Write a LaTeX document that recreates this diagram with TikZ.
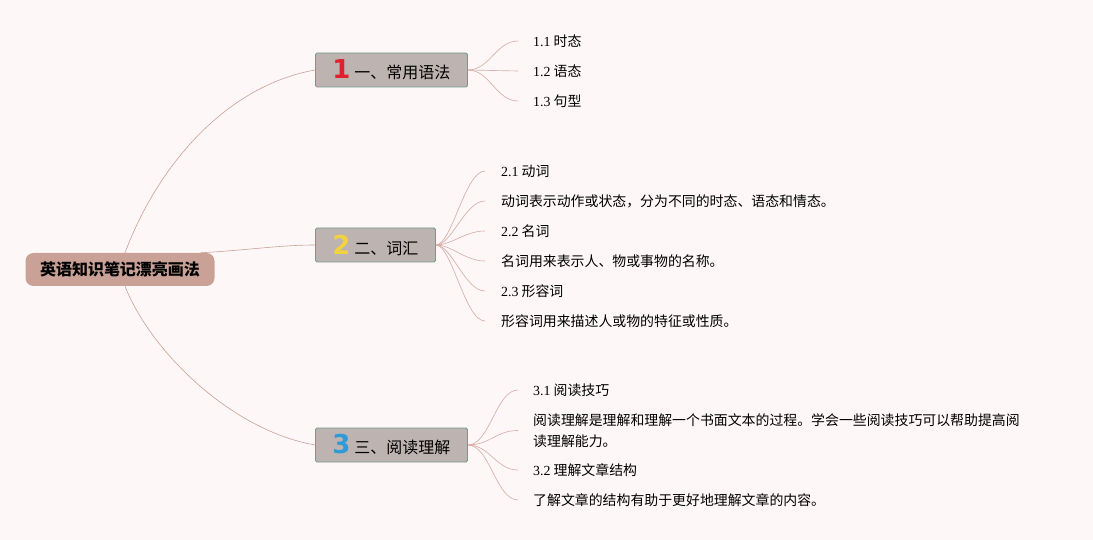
\documentclass[tikz,border=0pt]{standalone}
\usepackage{fontspec}
\setmainfont{Noto Sans CJK SC}
\newfontfamily\lat{Liberation Serif}
\newfontfamily\numfont{DejaVu Sans}
\definecolor{bgpink}{HTML}{FDF8F7}
\definecolor{rootfill}{HTML}{C9A197}
\definecolor{topicfill}{HTML}{BDB3B1}
\definecolor{topicline}{HTML}{6F9C8C}
\definecolor{linkc}{HTML}{C9A097}
\definecolor{leafc}{HTML}{D8AEA8}
\definecolor{numred}{HTML}{E0202E}
\definecolor{numyellow}{HTML}{F2D240}
\definecolor{numblue}{HTML}{2E9AD8}
\newcommand{\bignum}[2]{{\numfont\bfseries\fontsize{26}{26}\selectfont\color{#1}#2}\hspace{4pt}}
\tikzset{
  rootbox/.style={fill=rootfill, rounded corners=8pt, minimum width=189pt,
    minimum height=33pt, inner sep=0pt, font=\fontsize{16}{18}\selectfont\bfseries},
  topic/.style={draw=topicline, fill=topicfill, rounded corners=1.5pt, anchor=west,
    minimum height=34pt, inner xsep=17pt, inner ysep=0pt, line width=0.8pt,
    font=\fontsize{16}{18}\selectfont},
  leaf/.style={anchor=west, inner sep=0pt, align=left,
    font=\fontsize{13.9}{21}\selectfont},
  link/.style={draw=linkc, line width=0.6pt},
  twig/.style={draw=leafc, line width=0.65pt},
}
\begin{document}
\begin{tikzpicture}[x=1pt, y=-1pt]
  \fill[bgpink] (0,0) rectangle (1093,540);
  \useasboundingbox (0,0) rectangle (1093,540);
  % root and main topics
  \node[rootbox] (root) at (120,269.5) {英语知识笔记漂亮画法};
  \node[topic] (b1) at (315,70) {\bignum{numred}{1}一、常用语法};
  \node[topic] (b2) at (315,245) {\bignum{numyellow}{2}二、词汇};
  \node[topic] (b3) at (315,445) {\bignum{numblue}{3}三、阅读理解};
  % leaves of topic 1
  \node[leaf] (c11) at (533,41) {{\lat 1.1} 时态};
  \node[leaf] (c12) at (533,71) {{\lat 1.2} 语态};
  \node[leaf] (c13) at (533,101) {{\lat 1.3} 句型};
  % leaves of topic 2
  \node[leaf] (c21) at (501,171) {{\lat 2.1} 动词};
  \node[leaf] (c22) at (501,201) {动词表示动作或状态，分为不同的时态、语态和情态。};
  \node[leaf] (c23) at (501,231) {{\lat 2.2} 名词};
  \node[leaf] (c24) at (501,261) {名词用来表示人、物或事物的名称。};
  \node[leaf] (c25) at (501,291) {{\lat 2.3} 形容词};
  \node[leaf] (c26) at (501,321) {形容词用来描述人或物的特征或性质。};
  % leaves of topic 3
  \node[leaf] (c31) at (533,390) {{\lat 3.1} 阅读技巧};
  \node[leaf] (c32) at (533,430.5) {阅读理解是理解和理解一个书面文本的过程。学会一些阅读技巧可以帮助提高阅\\读理解能力。};
  \node[leaf] (c33) at (533,470) {{\lat 3.2} 理解文章结构};
  \node[leaf] (c34) at (533,500) {了解文章的结构有助于更好地理解文章的内容。};
  \begin{scope}[link]
    \draw ([xshift=5pt]root.north) .. controls (160,160) and (230,85) .. (b1.west);
    \draw ([xshift=-14pt]root.north east) .. controls (250,250) and (280,245) .. (b2.west);
    \draw ([xshift=5pt]root.south) .. controls (150,350) and (230,430) .. (b3.west);
  \end{scope}
  \begin{scope}[twig]
    \draw (b1.east) .. controls +(22,0) and +(-22,0) .. ([xshift=-15pt]c11.west);
    \draw (b1.east) -- ([xshift=-15pt]c12.west);
    \draw (b1.east) .. controls +(22,0) and +(-22,0) .. ([xshift=-15pt]c13.west);
    \draw (b2.east) .. controls +(16,0) and +(-20,0) .. ([xshift=-16pt]c21.west);
    \draw (b2.east) .. controls +(16,0) and +(-20,0) .. ([xshift=-16pt]c22.west);
    \draw (b2.east) .. controls +(16,0) and +(-20,0) .. ([xshift=-16pt]c23.west);
    \draw (b2.east) .. controls +(16,0) and +(-20,0) .. ([xshift=-16pt]c24.west);
    \draw (b2.east) .. controls +(16,0) and +(-20,0) .. ([xshift=-16pt]c25.west);
    \draw (b2.east) .. controls +(16,0) and +(-20,0) .. ([xshift=-16pt]c26.west);
    \draw (b3.east) .. controls +(22,0) and +(-22,0) .. ([xshift=-15pt]c31.west);
    \draw (b3.east) .. controls +(22,0) and +(-22,0) .. ([xshift=-15pt]c32.west);
    \draw (b3.east) .. controls +(22,0) and +(-22,0) .. ([xshift=-15pt]c33.west);
    \draw (b3.east) .. controls +(22,0) and +(-22,0) .. ([xshift=-15pt]c34.west);
  \end{scope}
\end{tikzpicture}
\end{document}
